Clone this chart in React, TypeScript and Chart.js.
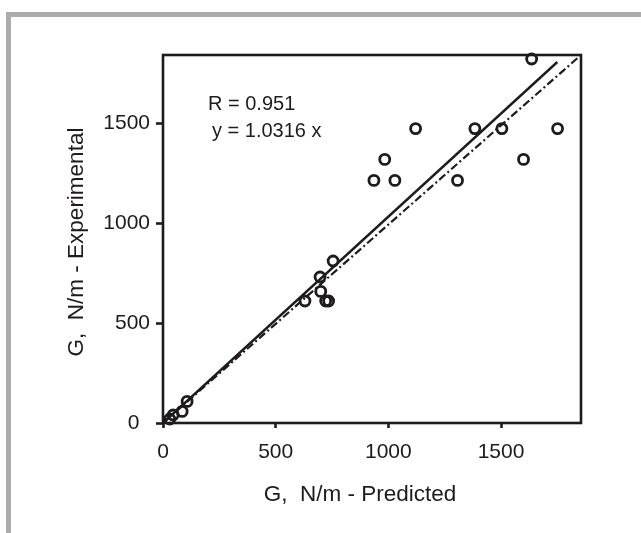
import React, { useEffect, useRef } from 'react';
import { Chart, registerables } from 'chart.js';

Chart.register(...registerables);

// ---- data ----
const predicted = [1636, 1121, 1384, 1504, 1751, 984, 1600, 936, 1029, 1307, 755, 697, 700, 630, 722, 735, 107, 85, 45, 30];
const experimental = [1820, 1472, 1472, 1472, 1472, 1318, 1318, 1213, 1213, 1213, 810, 730, 658, 610, 610, 610, 108, 58, 40, 20];
const fitLineX = [0, 1750];
const fitLineY = [0, 1805];
const unityLineX = [0, 1858];
const unityLineY = [0, 1843];
const xTicks = [0, 500, 1000, 1500];
const yTicks = [0, 500, 1000, 1500];
const xMax = 1855;
const yMax = 1840;
const xTitle = 'G,  N/m - Predicted';
const yTitle = 'G,  N/m - Experimental';
const annotationLines = ['R = 0.951', 'y = 1.0316 x'];

const FONT = '"Liberation Sans", Arial, Helvetica, sans-serif';
const INK = '#1e1b1c';

const decorPlugin = {
  id: 'decor',
  beforeDraw(chart: any) {
    const { ctx, width, height } = chart;
    ctx.save();
    ctx.fillStyle = '#ffffff';
    ctx.fillRect(0, 0, width, height);
    ctx.fillStyle = '#acacae';
    ctx.fillRect(6, 12, width - 6, 5);
    ctx.fillRect(6, 12, 5, height - 12);
    ctx.restore();
  },
  afterDraw(chart: any) {
    const { ctx, chartArea } = chart;
    const { left, top, right, bottom } = chartArea;
    ctx.save();
    // frame
    ctx.strokeStyle = INK;
    ctx.lineWidth = 2.6;
    ctx.strokeRect(left, top, right - left, bottom - top);
    // annotation
    ctx.fillStyle = INK;
    ctx.font = `20px ${FONT}`;
    ctx.textAlign = 'left';
    ctx.textBaseline = 'alphabetic';
    ctx.fillText(annotationLines[0], left + 45, top + 55);
    ctx.fillText(annotationLines[1], left + 49, top + 82);
    // axis titles
    ctx.font = `22.5px ${FONT}`;
    ctx.textAlign = 'center';
    ctx.fillText(xTitle, left + 197, bottom + 78);
    ctx.save();
    ctx.translate(left - 80, (top + bottom) / 2 + 3);
    ctx.rotate(-Math.PI / 2);
    ctx.fillText(yTitle, 0, 0);
    ctx.restore();
    ctx.restore();
  },
};

export default function App() {
  const canvasRef = useRef<HTMLCanvasElement | null>(null);

  useEffect(() => {
    if (!canvasRef.current) return;
    const points = predicted.map((x, i) => ({ x, y: experimental[i] }));
    const fit = fitLineX.map((x, i) => ({ x, y: fitLineY[i] }));
    const unity = unityLineX.map((x, i) => ({ x, y: unityLineY[i] }));

    const chart = new Chart(canvasRef.current, {
      type: 'scatter',
      data: {
        datasets: [
          {
            data: points,
            pointStyle: 'circle',
            pointRadius: 5,
            pointBorderWidth: 2.8,
            borderColor: INK,
            backgroundColor: 'rgba(0,0,0,0)',
            pointBackgroundColor: 'rgba(0,0,0,0)',
            showLine: false,
            clip: 8,
          },
          {
            data: fit,
            showLine: true,
            borderColor: INK,
            borderWidth: 2.4,
            pointRadius: 0,
            fill: false,
          },
          {
            data: unity,
            showLine: true,
            borderColor: INK,
            borderWidth: 2.2,
            borderDash: [8, 3, 2, 3],
            pointRadius: 0,
            fill: false,
            clip: 6,
          },
        ],
      },
      options: {
        responsive: false,
        animation: false,
        events: [],
        layout: { padding: { top: 55, right: 60, bottom: 0, left: 0 } },
        plugins: {
          legend: { display: false },
          tooltip: { enabled: false },
          title: { display: false },
        },
        scales: {
          x: {
            type: 'linear',
            min: 0,
            max: xMax,
            afterBuildTicks: (scale: any) => {
              scale.ticks = xTicks.map((v) => ({ value: v }));
            },
            afterFit: (scale: any) => {
              scale.height = 110;
            },
            border: { display: false },
            grid: {
              drawOnChartArea: false,
              drawTicks: true,
              tickLength: 5,
              tickWidth: 2.6,
              tickColor: INK,
            },
            ticks: {
              padding: 12,
              color: INK,
              font: { family: FONT, size: 21 },
              maxRotation: 0,
              autoSkip: false,
              callback: (v: any) => String(v),
            },
          },
          y: {
            type: 'linear',
            min: 0,
            max: yMax,
            afterBuildTicks: (scale: any) => {
              scale.ticks = yTicks.map((v) => ({ value: v }));
            },
            afterFit: (scale: any) => {
              scale.width = 163;
            },
            border: { display: false },
            grid: {
              drawOnChartArea: false,
              drawTicks: true,
              tickLength: 7,
              tickWidth: 2.6,
              tickColor: INK,
            },
            ticks: {
              padding: 6,
              color: INK,
              font: { family: FONT, size: 21 },
              autoSkip: false,
              callback: (v: any) => (v === 0 ? '0\u2002' : String(v)),
            },
          },
        },
      },
      plugins: [decorPlugin],
    });
    return () => chart.destroy();
  }, []);

  return (
    <div style={{ position: 'absolute', left: 0, top: 0, width: 641, height: 533, background: '#fff' }}>
      <canvas ref={canvasRef} width={641} height={533} style={{ display: 'block' }} />
    </div>
  );
}
